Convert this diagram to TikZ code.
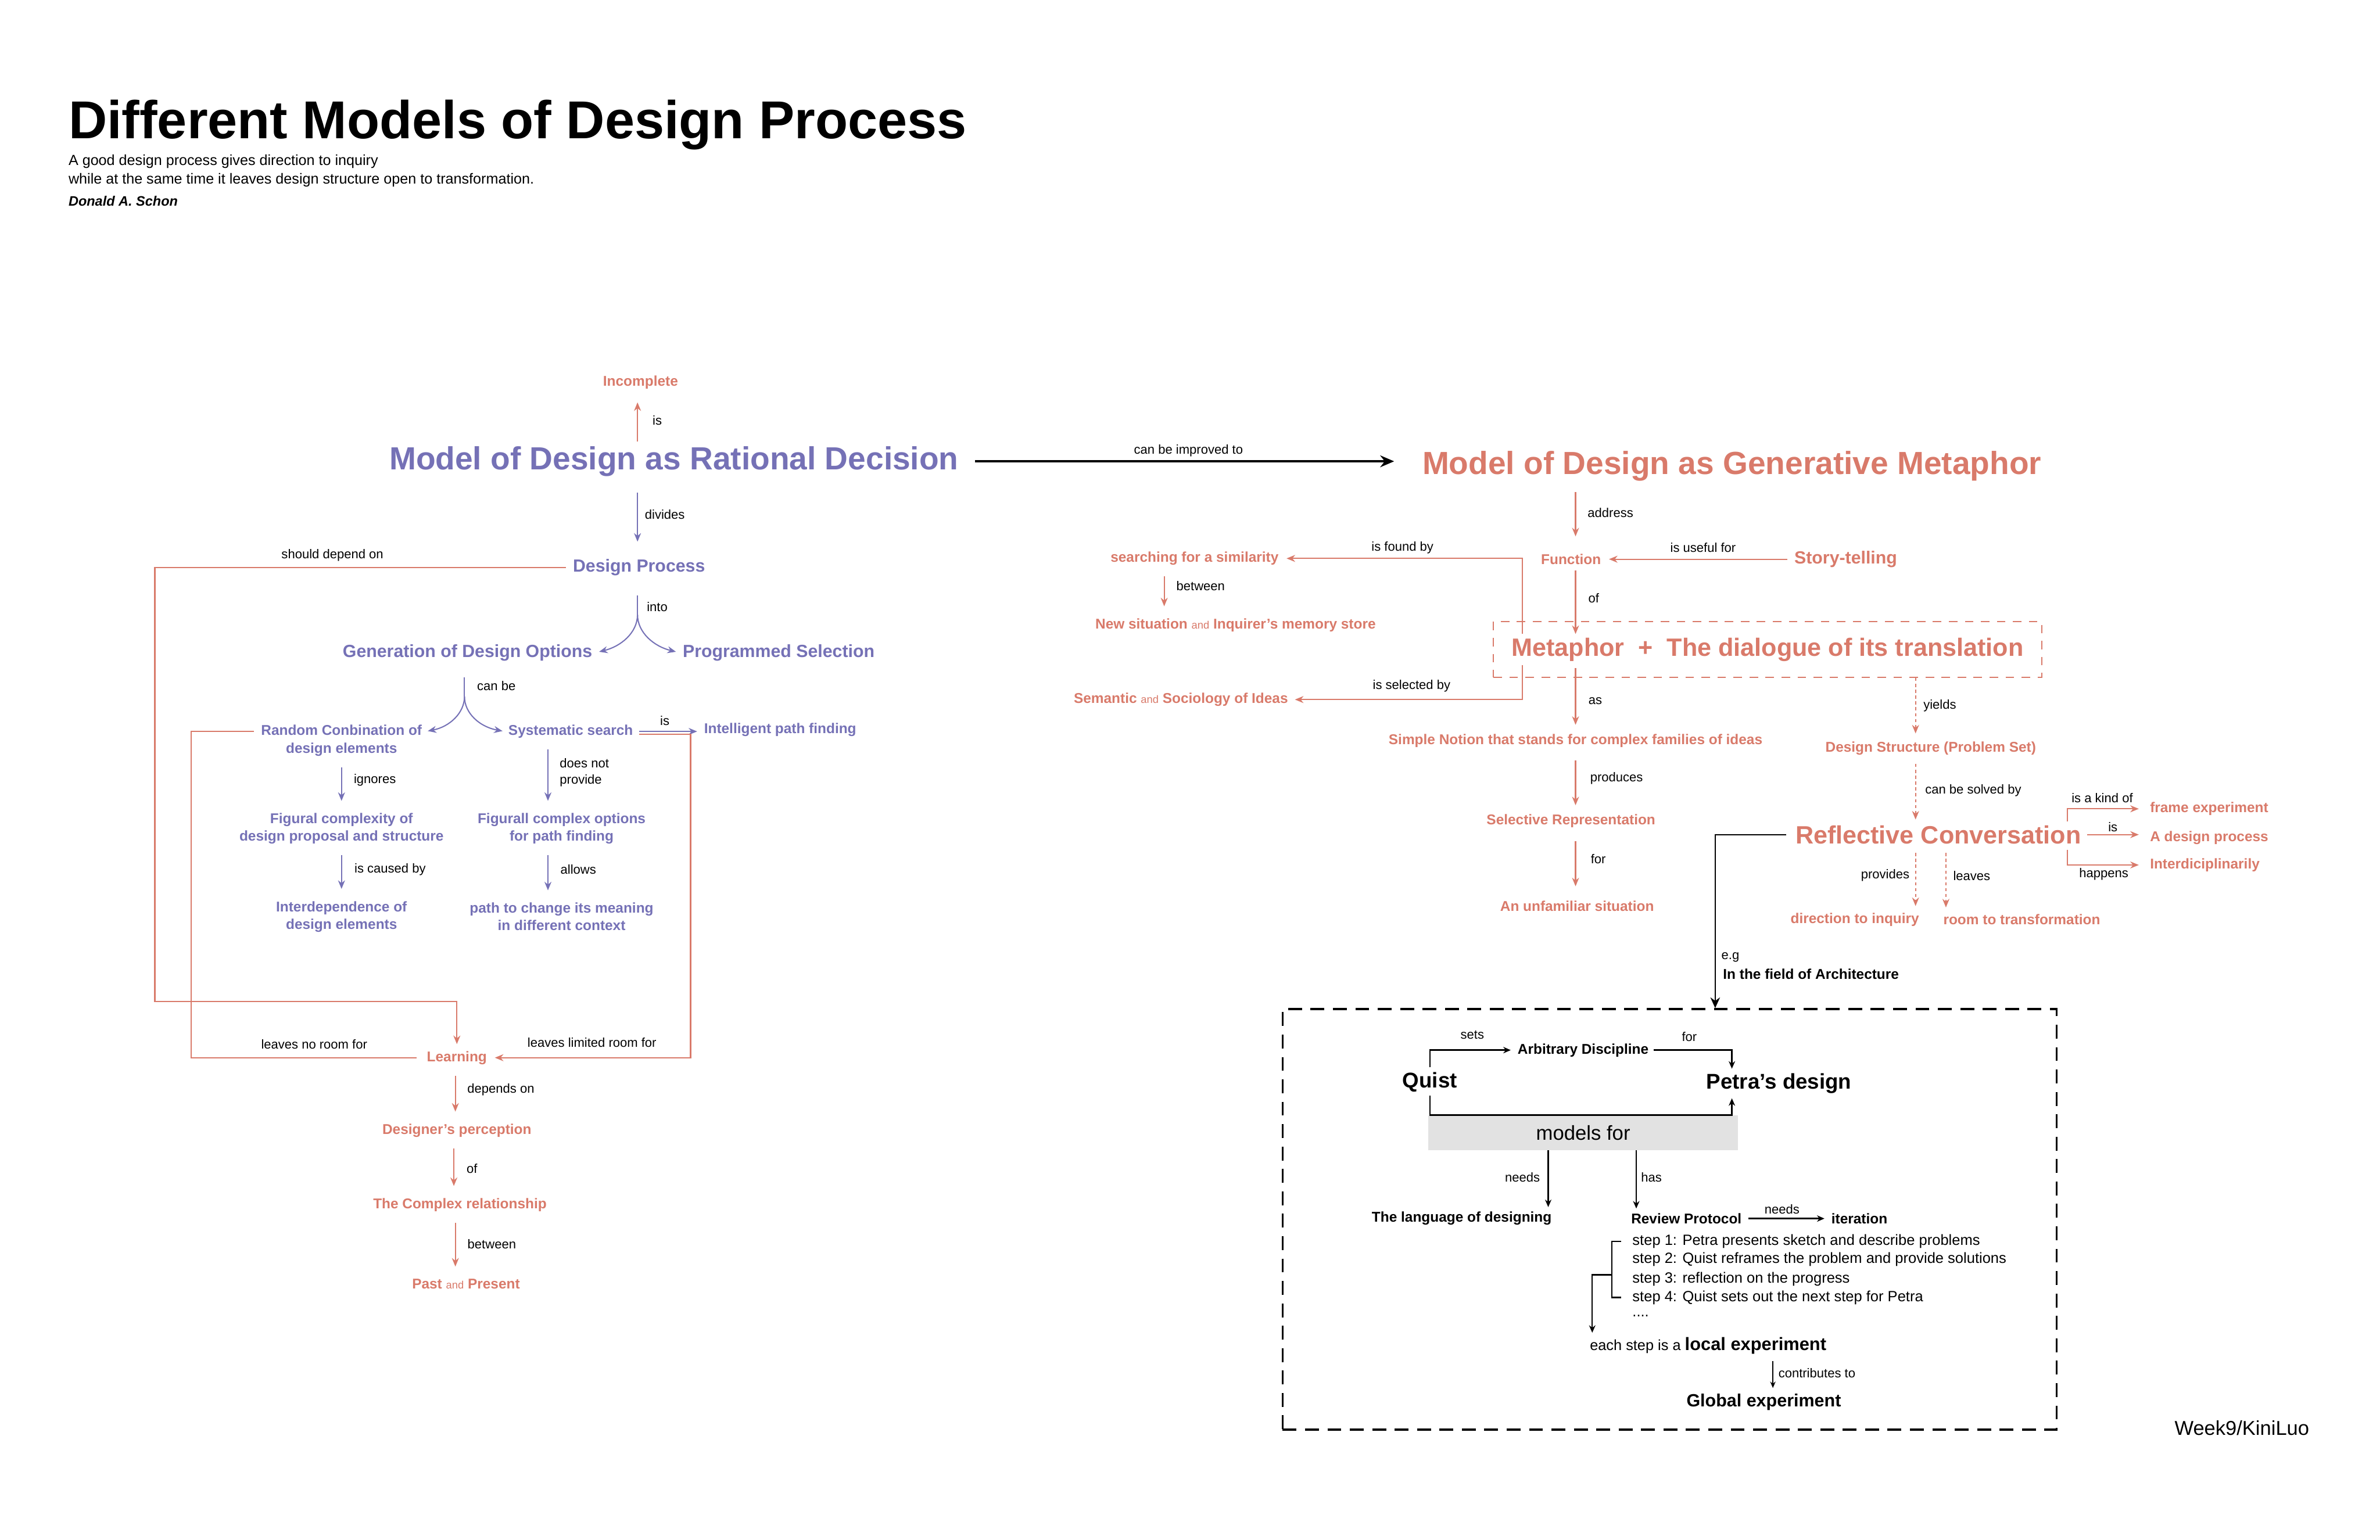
\documentclass[tikz,border=0pt]{standalone}
\usepackage{fontspec}
\setmainfont{Liberation Sans}
\usetikzlibrary{arrows.meta,fit}
\definecolor{purp}{RGB}{117,113,182}
\definecolor{salm}{RGB}{217,122,106}
\definecolor{boxgray}{RGB}{226,226,226}
\newcommand{\andword}{{\fontsize{10}{12}\selectfont\mdseries and}}
\begin{document}
\begin{tikzpicture}
[x=0.05cm, y=-0.05cm,
  bignode/.style={font=\fontsize{30}{36}\selectfont\bfseries},
  midnode/.style={font=\fontsize{16.5}{20}\selectfont\bfseries},
  widenode/.style={font=\fontsize{23.5}{28}\selectfont\bfseries},
  itemnode/.style={font=\fontsize{13.3}{16.4}\selectfont\bfseries, align=center},
  casenode/.style={font=\fontsize{20}{24}\selectfont\bfseries},
  lblnode/.style={font=\fontsize{12}{15.6}\selectfont, align=left},
  stepnode/.style={anchor=west, font=\fontsize{13.9}{17}\selectfont},
  purpline/.style={draw=purp, line width=1.1pt},
  purparrow/.style={purpline, -{Stealth[length=8pt,width=6.5pt]},
    shorten <=7pt, shorten >=8pt},
  redline/.style={draw=salm, line width=1.2pt},
  redarrow/.style={redline, -{Stealth[length=8pt,width=6.5pt]},
    shorten <=7pt, shorten >=8pt},
  reddotarrow/.style={redarrow, dash pattern=on 3pt off 2.5pt,
    shorten <=5pt, shorten >=3pt},
  blackline/.style={draw=black, line width=1.3pt},
  blackarrow/.style={blackline, -{Stealth[length=7pt,width=6pt]},
    shorten <=1pt, shorten >=1pt}]
\fill[white] (0,0) rectangle (1568,1014.6);
%% title and quote
\node[anchor=base west, font=\fontsize{50}{60}\selectfont\bfseries] (title)
  at (42.7,91.3) {Different Models of Design Process};
\node[anchor=base west, font=\fontsize{13.7}{18.5}\selectfont] (quoteone)
  at (42.7,108.9) {A good design process gives direction to inquiry};
\node[anchor=base west, font=\fontsize{13.7}{18.5}\selectfont] (quotetwo)
  at (42.7,121.1) {while at the same time it leaves design structure open to transformation.};
\node[anchor=base west, font=\fontsize{12.8}{15}\selectfont\bfseries\itshape] (author)
  at (42.7,135.7) {Donald A. Schon};
%% the two models
\node[bignode, text=purp] (rational) at (444,304) {Model of Design as Rational Decision};
\node[bignode, text=salm] (generative) at (1141,307) {Model of Design as Generative Metaphor};
%% rational decision side
\foreach \nodename/\x/\y/\nodetext in {dprocess/421/374/Design Process,
  genopt/308/430/Generation of Design Options, progsel/513/430/Programmed Selection}
{
  \node[midnode, text=purp] (\nodename) at (\x,\y) {\nodetext};
}
\foreach \nodename/\x/\y/\nodetext in {randcomb/225/488/Random Conbination of\\design elements,
  syssearch/376/482/Systematic search, intpath/514/481/Intelligent path finding,
  figural/225/546/Figural complexity of\\design proposal and structure,
  figurall/370/546/Figurall complex options\\for path finding,
  interdep/225/604/Interdependence of\\design elements,
  pathchange/370/604/path to change its meaning\\in different context}
{
  \node[itemnode, text=purp] (\nodename) at (\x,\y) {\nodetext};
}
\foreach \nodename/\x/\y/\nodetext in {incomplete/422/252/Incomplete,
  learning/301/697/Learning, perception/301/745/Designer’s perception,
  complexrel/303/794/The Complex relationship, pastpres/307/846/Past \andword{} Present}
{
  \node[itemnode, text=salm] (\nodename) at (\x,\y) {\nodetext};
}
%% generative metaphor side
\foreach \nodename/\x/\y/\nodetext in {function/1035/368.5/Function,
  similarity/787/368/searching for a similarity,
  newsit/814/412/New situation \andword{} Inquirer’s memory store,
  semantic/778/461/Semantic \andword{} Sociology of Ideas,
  simple/1038/488/Simple Notion that stands for complex families of ideas,
  selective/1035/541/Selective Representation, unfamiliar/1039/597/An unfamiliar situation,
  dstruct/1272/493/Design Structure (Problem Set),
  direction/1222/606/direction to inquiry, room/1332/606/room to transformation}
{
  \node[itemnode, text=salm] (\nodename) at (\x,\y) {\nodetext};
}
\foreach \nodename/\y/\nodetext in {frame/533/frame experiment,
  adesign/552/A design process, interdisc/570/Interdiciplinarily}
{
  \node[itemnode, text=salm, anchor=west] (\nodename) at (1414,\y) {\nodetext};
}
\node[midnode, text=salm] (story) at (1216,368.5) {Story-telling};
\node[widenode, text=salm] (metaphor) at (1164.5,428) {Metaphor\ \ +\ \ The dialogue of its translation};
\node[fit=(metaphor), draw=salm, line width=1.2pt, dash pattern=on 8pt off 7pt,
  inner xsep=13.5pt, inner ysep=11.5pt] (metabox) {};
\node[widenode, text=salm] (reflective) at (1277,550) {Reflective Conversation};
%% architecture case
\node[itemnode, anchor=west] (field) at (1132.7,642) {In the field of Architecture};
\node[draw, line width=2pt, dash pattern=on 13pt off 8pt, minimum width=25.5cm,
  minimum height=13.85cm] (casebox) at (1100,803.5) {};
\node[casenode] (quist) at (942,713) {Quist};
\node[casenode] (petra) at (1172,714) {Petra’s design};
\node[fill=boxgray, minimum width=10.2cm, minimum height=1.15cm,
  font=\fontsize{18.9}{22}\selectfont] (modelsfor) at (1043,746.5) {models for};
\foreach \nodename/\x/\y/\nodetext in {arbitrary/1043/692/Arbitrary Discipline,
  language/963/803/The language of designing, review/1111/803/Review Protocol,
  iteration/1225/803/iteration}
{
  \node[itemnode] (\nodename) at (\x,\y) {\nodetext};
}
\foreach \stepname/\y/\steptext in {step1/818/step 1: Petra presents sketch and describe problems,
  step2/830/step 2: Quist reframes the problem and provide solutions,
  step3/843/step 3: reflection on the progress,
  step4/855/step 4: Quist sets out the next step for Petra}
{
  \node[stepnode] (\stepname) at (1073,\y) {\steptext};
}
\node[stepnode] (stepdots) at (1073,867) {....};
\node[anchor=base west, font=\fontsize{13.8}{17}\selectfont] (localexp) at (1045,890)
  {each step is a {\fontsize{16.8}{20}\selectfont\bfseries local experiment}};
\node[font=\fontsize{16.6}{20}\selectfont\bfseries] (global) at (1162,924) {Global experiment};
\node[font=\fontsize{18.8}{22}\selectfont] (signature) at (1477,941) {Week9/KiniLuo};
%% link labels
\foreach \lblname/\x/\y/\lbltext in {lblis/433/277/is, lblimproved/783/297/can be improved to,
  lbldivides/438/339/divides, lbldepend/219/366/should depend on, lblinto/433/400/into,
  lblcanbe/327/452/can be, lblintel/438/475/is, lblnotprov/385/509/does not\\provide,
  lblignores/247/514/ignores, lblcaused/257/573/is caused by, lblallows/381/573/allows,
  lblnoroom/207/688/leaves no room for, lbllimited/390/687/leaves limited room for,
  lbldepends/330/718/depends on, lblof/311/770/of, lblbetween/324/820/between,
  lbladdress/1061/338/address, lblfound/924/361/is found by, lbluseful/1122/361/is useful for,
  lblbetweenr/791/386/between, lblofr/1050/394/of, lblselected/930/452/is selected by,
  lblas/1051/462/as, lblyields/1278/465/yields, lblproduces/1065/513/produces,
  lblsolved/1300/521/can be solved by, lblkind/1385/526/is a kind of, lblisr/1392/545/is,
  lblfor/1053/566/for, lblprovides/1242/577/provides, lblleaves/1299/577/leaves,
  lblhappens/1386/576/happens, lbleg/1140/631/e.g, lblsets/970/682/sets,
  lblforcase/1113/683/for, lblneeds/1003/776/needs, lblhas/1088/776/has,
  lblneedsit/1174/797/needs, lblcontrib/1197/905/contributes to}
{
  \node[lblnode] (\lblname) at (\x,\y) {\lbltext};
}
%% rational decision links
\draw[redarrow, shorten <=1pt, shorten >=9pt] (rational.north -| 420,0) -- (incomplete.south -| 420,0);
\draw[purparrow, shorten <=12pt, shorten >=13pt] (rational.south -| 420,0) -- (dprocess.north -| 420,0);
\coordinate (intobranch) at (420,405);
\draw[purpline, shorten <=15pt] (dprocess.south -| intobranch) -- (intobranch);
\draw[purparrow, shorten <=0pt, shorten >=3pt] (intobranch) .. controls (420,417) and (409,426) .. (genopt.east);
\draw[purparrow, shorten <=0pt, shorten >=3pt] (intobranch) .. controls (420,417) and (431,426) .. (progsel.west);
\coordinate (canbranch) at (306,459);
\draw[purpline, shorten <=12pt] (genopt.south -| canbranch) -- (canbranch);
\draw[purparrow, shorten <=0pt, shorten >=2pt] (canbranch) .. controls (306,470) and (296,479) .. ([yshift=0.3cm]randcomb.east);
\draw[purparrow, shorten <=0pt, shorten >=2pt] (canbranch) .. controls (306,470) and (316,479) .. (syssearch.west);
\draw[purparrow, shorten <=2pt, shorten >=3pt] (syssearch.east) -- (syssearch.east -| intpath.west);
\draw[purparrow] (randcomb.south) -- (figural.north);
\draw[purparrow] (figural.south) -- (interdep.north);
\draw[purparrow] (syssearch.south -| 361,0) -- (figurall.north -| 361,0);
\draw[purparrow] (figurall.south -| 361,0) -- (pathchange.north -| 361,0);
\draw[redarrow, shorten <=3pt, shorten >=3pt] (dprocess.west) -| (102,660) -| (learning.north);
\draw[redline, shorten <=3pt, shorten >=6pt] ([yshift=0.3cm]randcomb.west) -| (learning.west -| 126,0) -- (learning.west);
\draw[redarrow, shorten <=2pt, shorten >=4pt] ([yshift=-0.1cm]syssearch.east) -| (learning.east -| 455,0) -- (learning.east);
\draw[redarrow] (learning.south -| 300,0) -- (perception.north -| 300,0);
\draw[redarrow] (perception.south -| 299,0) -- (complexrel.north -| 299,0);
\draw[redarrow] (complexrel.south -| 300,0) -- (pastpres.north -| 300,0);
%% between the two models
\draw[black, line width=2.2pt, -{Stealth[length=13pt,width=11pt]}, shorten <=12pt, shorten >=23pt]
  (rational.east) -- (rational.east -| generative.west);
%% generative metaphor links
\draw[redarrow, shorten >=13pt] (generative.south -| 1038,0) -- (function.north -| 1038,0);
\draw[redarrow, shorten <=3pt, shorten >=4pt] (story.west) -- (function.east);
\draw[redarrow, shorten <=2pt, shorten >=0pt] (function.south -| 1038,0) -- (metaphor.north -| 1038,0);
\draw[redarrow, shorten <=0pt, shorten >=4pt] (metaphor.north -| 1003,0) |- (similarity.east);
\draw[redarrow, shorten <=0pt, shorten >=3pt] (metaphor.south -| 1003,0) |- (semantic.east);
\draw[redarrow] (similarity.south -| 767,0) -- (newsit.north -| 767,0);
\draw[redarrow, shorten <=3pt, shorten >=5pt] (metaphor.south -| 1038,0) -- (simple.north -| 1038,0);
\draw[redarrow, shorten <=9pt, shorten >=5pt] (simple.south -| 1038,0) -- (selective.north -| 1038,0);
\draw[redarrow, shorten <=9pt, shorten >=10pt] (selective.south -| 1038,0) -- (unfamiliar.north -| 1038,0);
\draw[reddotarrow, shorten <=0pt, shorten >=4pt] (metabox.south -| 1262,0) -- (dstruct.north -| 1262,0);
\draw[reddotarrow, shorten >=2pt] (dstruct.south -| 1262,0) -- (reflective.north -| 1262,0);
\draw[reddotarrow] (reflective.south -| 1262,0) -- (direction.north -| 1262,0);
\draw[reddotarrow] (reflective.south -| 1282,0) -- (room.north -| 1282,0);
\draw[redarrow, shorten <=0pt, shorten >=7pt] (reflective.north east -| 1362,0) |- (frame.west);
\draw[redarrow, shorten <=2pt, shorten >=7pt] (reflective.east) -- (reflective.east -| adesign.west);
\draw[redarrow, shorten <=2pt, shorten >=7pt] (reflective.south east -| 1362,0) |- (interdisc.west);
\draw[blackline, -{Stealth[length=10pt,width=9pt]}, shorten <=5pt] (reflective.west) -| (casebox.north -| 1130,0);
%% inside the case
\draw[blackarrow, shorten >=3pt] (quist.north) |- (arbitrary.west);
\draw[blackarrow] (arbitrary.east) -| (petra.north -| 1141,0);
\draw[blackarrow, shorten <=0pt] (quist.south) -- (quist.south |- modelsfor.north) -| (petra.south -| 1141,0);
\draw[blackarrow, shorten <=0pt] (modelsfor.south -| 1020,0) -- (language.north -| 1020,0);
\draw[blackarrow, shorten <=0pt] (modelsfor.south -| 1078,0) -- (review.north -| 1078,0);
\draw[blackarrow, shorten <=3pt, shorten >=3pt] (review.east) -- (iteration.west);
\draw[blackline] ([xshift=-0.25cm]step1.west) -- ++(-6,0) |- ([xshift=-0.25cm]step4.west);
\coordinate (bracketmid) at (1062,840);
\draw[blackarrow, shorten <=0pt] (bracketmid) -| (localexp.north -| 1049,0);
\draw[blackline, line width=0.8pt, -{Stealth[length=6pt,width=5pt]}, shorten <=3pt, shorten >=2pt]
  (localexp.south -| 1168,0) -- (global.north -| 1168,0);
\end{tikzpicture}
\end{document}
